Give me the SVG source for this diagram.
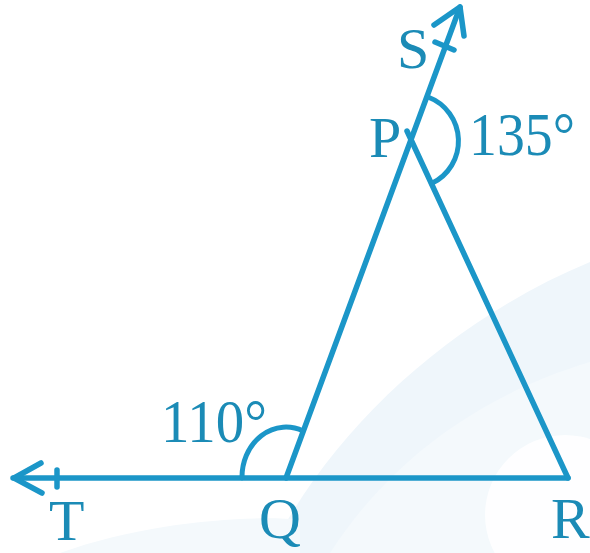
<svg xmlns="http://www.w3.org/2000/svg" width="590" height="553" viewBox="0 0 590 553">
<style>
.ln{fill:none;stroke:#1b96c8;stroke-width:5.5;stroke-linecap:round;stroke-linejoin:round}
.arc{fill:none;stroke:#1b96c8;stroke-width:5;stroke-linecap:round}
.lbl{font-family:'Liberation Serif','Times New Roman',serif;font-size:58px;fill:#1b8bb6}
.ang{font-family:'Liberation Serif','Times New Roman',serif;font-size:61px;fill:#1b8bb6}
</style>
<rect width="590" height="553" fill="#ffffff"/>
<g id="background">
<path d="M270,553 C330,430 450,320 590,262 L590,553 Z" fill="#eff6fb"/>
<path d="M330,553 C390,460 480,395 590,362 L590,553 Z" fill="#f4f9fc"/>
<circle cx="565" cy="515" r="80" fill="#ffffff" opacity="0.85"/>
<path d="M60,553 C150,520 260,515 300,520 L300,553 Z" fill="#f4f9fc"/>
</g>
<g id="connectors">
<line class="ln" x1="13" y1="478" x2="568" y2="478"/>
<line class="ln" x1="286" y1="478" x2="460" y2="7"/>
<line class="ln" x1="407" y1="131" x2="568" y2="478"/>
<polyline class="ln" points="41,463 14,478 42,493"/>
<line class="ln" x1="57" y1="470" x2="57" y2="487"/>
<polyline class="ln" points="434,25 460,7 464,36"/>
<line class="ln" x1="435" y1="42" x2="454" y2="50"/>
<path class="arc" d="M242,478 A44,50 0 0 1 303,431"/>
<path class="arc" d="M428,97 A47,47 0 0 1 431.5,183.5"/>
</g>
<g id="node-S"><text class="lbl" x="397" y="68">S</text></g>
<g id="node-P"><text class="lbl" x="369" y="157">P</text></g>
<g id="node-T"><text class="lbl" x="49" y="540">T</text></g>
<g id="node-Q"><text class="lbl" x="259" y="538">Q</text></g>
<g id="node-R"><text class="lbl" x="551" y="538">R</text></g>
<g id="angle-135"><text class="ang" x="469" y="155" textLength="106" lengthAdjust="spacingAndGlyphs">135°</text></g>
<g id="angle-110"><text class="ang" x="161" y="442" textLength="106" lengthAdjust="spacingAndGlyphs">110°</text></g>
</svg>
